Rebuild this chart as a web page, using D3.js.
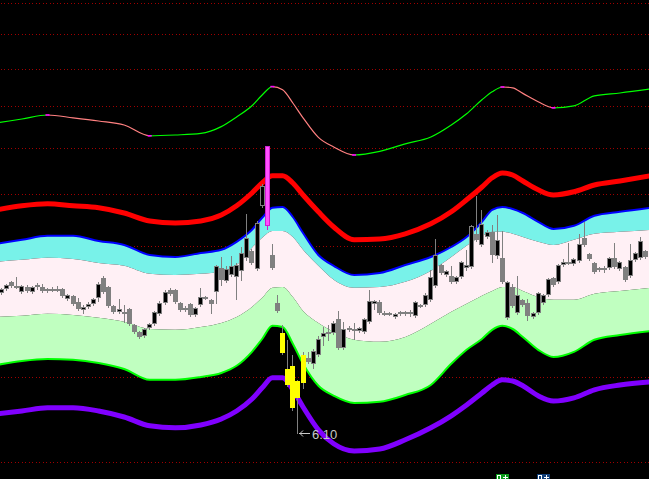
<!DOCTYPE html>
<html><head><meta charset="utf-8">
<script src="https://cdn.jsdelivr.net/npm/d3@7"></script>
<style>html,body{margin:0;padding:0;background:#000;overflow:hidden}svg{display:block}</style>
</head><body><svg id="c" width="649" height="479"></svg>
<script>
// ---- candle data (index 0..126) ----
const candleOpen = [9.60,9.70,9.88,9.78,9.63,9.75,9.63,9.75,9.75,9.65,
9.70,9.70,9.70,9.45,9.53,9.38,9.18,9.25,9.33,9.48,
9.98,9.75,9.28,9.13,9.13,9.20,8.80,8.63,8.53,8.73,
8.83,9.08,9.35,9.68,9.68,9.35,9.23,9.33,9.05,9.30,
9.50,9.43,9.63,10.23,9.90,10.05,10.00,10.15,10.48,10.65,
10.20,11.78,11.28,10.55,9.35,8.60,7.70,7.78,6.98,7.35,
7.98,7.83,8.05,8.50,8.63,8.60,8.95,8.23,8.73,8.70,
8.65,8.63,8.88,9.33,9.38,9.10,9.10,9.00,9.08,9.13,
9.13,9.03,9.30,9.30,9.43,9.78,10.30,10.05,10.03,9.88,
10.00,10.23,10.25,11.08,10.80,11.00,11.13,10.53,10.48,8.98,
9.75,9.10,9.43,9.35,9.00,9.10,9.35,9.55,9.98,9.88,
10.30,10.38,10.33,10.40,10.98,10.58,10.35,10.23,10.23,10.23,
10.48,10.20,10.25,10.03,10.43,10.48,10.65];
const candleHigh = [9.73,9.83,9.90,10.00,9.80,9.80,9.78,9.85,9.83,9.73,
9.75,9.78,9.73,9.58,9.55,9.48,9.30,9.38,9.48,9.88,
10.03,9.78,9.30,9.45,9.30,9.23,8.83,8.65,8.73,8.85,
9.15,9.40,9.68,9.73,9.70,9.38,9.28,9.35,9.25,9.73,
9.53,9.45,10.30,10.50,10.28,10.53,10.35,10.75,11.58,10.70,
11.40,12.33,13.28,10.83,9.55,8.80,8.43,8.05,7.43,8.13,
8.13,8.20,8.53,8.75,8.80,8.90,9.15,8.88,8.78,8.85,
8.75,8.98,9.68,9.43,9.43,9.15,9.13,9.10,9.15,9.15,
9.18,9.40,9.33,9.60,10.18,10.95,10.33,10.18,10.28,10.03,
10.40,10.68,11.30,12.03,11.68,11.18,11.30,11.55,11.15,9.90,
9.83,10.03,9.45,9.45,9.13,9.63,9.58,9.98,10.00,10.33,
10.45,10.85,10.48,11.08,11.38,10.60,10.38,10.25,10.28,10.50,
10.85,10.40,10.28,10.83,10.63,11.00,10.68];
const candleLow = [9.58,9.68,9.75,9.73,9.60,9.63,9.60,9.70,9.63,9.63,
9.65,9.65,9.50,9.43,9.30,9.18,9.10,9.23,9.30,9.40,
9.60,9.25,9.10,9.10,8.88,8.80,8.60,8.48,8.50,8.70,
8.80,9.05,9.33,9.55,9.35,9.15,9.15,9.03,9.03,9.28,
9.45,9.10,9.35,9.80,9.88,10.03,9.45,9.93,10.43,10.33,
10.18,11.75,11.20,10.20,9.13,8.08,7.28,6.68,6.10,7.23,
7.85,7.73,8.03,8.30,8.43,8.58,8.20,8.20,8.65,8.45,
8.63,8.60,8.85,9.20,9.08,9.05,9.05,8.98,9.05,9.05,
9.03,9.00,9.25,9.28,9.40,9.75,10.08,10.03,9.85,9.85,
9.98,10.18,10.23,10.90,10.78,10.98,10.38,10.48,9.85,8.95,
9.25,9.08,9.28,8.93,8.98,9.08,9.33,9.53,9.78,9.85,
10.28,10.33,10.30,10.38,10.78,10.43,10.10,10.15,10.13,10.20,
10.23,10.18,9.90,10.00,10.40,10.45,10.48];
const candleClose = [9.70,9.80,9.78,9.75,9.78,9.65,9.75,9.80,9.65,9.70,
9.68,9.68,9.53,9.55,9.33,9.20,9.25,9.33,9.45,9.83,
9.63,9.28,9.13,9.20,9.10,8.83,8.63,8.50,8.70,8.83,
9.13,9.35,9.63,9.58,9.38,9.18,9.18,9.05,9.23,9.50,
9.48,9.33,10.28,9.93,10.20,10.28,10.30,10.60,10.98,10.35,
11.35,12.28,13.28,10.23,9.15,8.10,7.30,6.73,7.40,8.05,
7.88,8.15,8.45,8.60,8.60,8.85,8.23,8.70,8.68,8.65,
8.73,8.95,9.40,9.40,9.10,9.08,9.08,9.08,9.13,9.08,
9.08,9.38,9.28,9.55,10.00,10.55,10.10,10.15,9.88,10.00,
10.38,10.30,11.28,10.93,11.33,11.13,10.55,10.93,9.88,9.88,
9.28,9.55,9.30,9.03,9.10,9.60,9.55,9.95,9.80,10.30,
10.38,10.35,10.45,10.83,10.80,10.45,10.13,10.18,10.18,10.48,
10.25,10.38,9.93,10.43,10.60,10.90,10.50];
const magentaBars = [52];
const yellowBars = [55,56,57,58,59];

// ---- indicator bands, sampled at these candle indices ----
const bandIdx = [-1,4,9,14,19,24,29,34,39,43,46,49,51,53,55,57,59,62,65,69,74,79,84,88,91,94,96,98,100,102,105,108,112,116,121,127];
const topLine = [13.85,13.95,14.05,13.98,13.90,13.80,13.53,13.55,13.59,13.76,14.00,14.28,14.55,14.76,14.68,14.35,13.98,13.49,13.25,13.05,13.14,13.33,13.50,13.80,14.08,14.43,14.63,14.75,14.73,14.59,14.38,14.23,14.28,14.53,14.60,14.70];
const redBand = [11.68,11.78,11.83,11.78,11.73,11.60,11.40,11.35,11.40,11.55,11.78,12.10,12.35,12.53,12.53,12.35,12.05,11.63,11.25,10.93,10.95,11.08,11.33,11.63,11.93,12.25,12.48,12.60,12.55,12.40,12.18,12.05,12.13,12.30,12.40,12.53];
const blueBand = [10.83,10.93,11.03,11.03,10.90,10.80,10.55,10.50,10.60,10.68,10.88,11.18,11.48,11.73,11.75,11.50,11.10,10.55,10.28,10.05,10.10,10.30,10.50,10.75,11.00,11.38,11.68,11.75,11.70,11.60,11.38,11.20,11.28,11.53,11.63,11.73];
const pinkTop = [10.38,10.43,10.48,10.45,10.35,10.28,10.08,10.05,10.08,10.13,10.30,10.73,10.98,11.15,11.15,11.00,10.68,10.28,9.93,9.73,9.75,9.88,10.15,10.50,10.78,11.03,11.13,11.13,11.08,11.00,10.88,10.80,10.93,11.08,11.13,11.18];
const greenTop = [9.00,9.03,9.08,9.05,8.98,8.88,8.70,8.68,8.75,8.85,9.00,9.25,9.48,9.73,9.75,9.50,9.15,8.85,8.63,8.43,8.38,8.50,8.83,9.13,9.33,9.53,9.65,9.75,9.75,9.65,9.50,9.43,9.43,9.58,9.65,9.73];
const greenBand = [7.80,7.90,7.95,7.93,7.85,7.70,7.43,7.43,7.50,7.60,7.78,8.13,8.45,8.78,8.75,8.33,7.83,7.28,7.03,6.85,6.88,7.05,7.30,7.83,8.18,8.45,8.68,8.78,8.70,8.50,8.18,8.00,8.13,8.43,8.55,8.65];
const purpleBand = [6.58,6.65,6.73,6.73,6.65,6.50,6.28,6.23,6.30,6.45,6.65,6.95,7.23,7.48,7.48,7.18,6.75,6.18,5.83,5.65,5.70,5.93,6.23,6.53,6.80,7.10,7.30,7.43,7.40,7.28,7.03,6.90,6.98,7.18,7.30,7.38];

const gridPrices = [16.85,16.08,15.20,14.28,13.23,12.08,10.78,9.25,7.50,5.38];
const lowMark = {index:58, label:"6.10"};
const signalIdx = [98,106];
const signalColor = ["#0b9a1a","#12407a"];

// ---- render ----
const W = 649, H = 479;
const svg = d3.select("#c");
svg.append("rect").attr("width",W).attr("height",H).attr("fill","#000");

const x = d3.scaleLinear().domain([0,126]).range([1.5,645.5]);
const y = d3.scaleLinear().domain([4.95,16.925]).range([H,0]);

// grid (dotted)
svg.append("g").attr("shape-rendering","crispEdges").selectAll("line").data(gridPrices).join("line")
  .attr("x1",0.5).attr("x2",W)
  .attr("y1",d=>Math.round(y(d))+0.5).attr("y2",d=>Math.round(y(d))+0.5)
  .attr("stroke","#a00000").attr("stroke-width",1)
  .attr("stroke-dasharray","1,2.5");

const pts = bandIdx.map((k,i)=>i);
const bx = i => x(bandIdx[i]);
const area = (lo,hi) => d3.area().x(bx).y0(i=>y(lo[i])).y1(i=>y(hi[i])).curve(d3.curveMonotoneX);
const lineOf = arr => d3.line().x(bx).y(i=>y(arr[i])).curve(d3.curveMonotoneX);

svg.append("path").attr("d",area(pinkTop,blueBand)(pts)).attr("fill","#78f2e9");
svg.append("path").attr("d",area(greenTop,pinkTop)(pts)).attr("fill","#fff0f5");
svg.append("path").attr("d",area(greenBand,greenTop)(pts)).attr("fill","#c0ffc0");

svg.append("path").attr("d",lineOf(blueBand)(pts)).attr("fill","none").attr("stroke","#0000ff").attr("stroke-width",2);
svg.append("path").attr("d",lineOf(greenBand)(pts)).attr("fill","none").attr("stroke","#00ff00").attr("stroke-width",2);
svg.append("path").attr("d",lineOf(redBand)(pts)).attr("fill","none").attr("stroke","#ff0000").attr("stroke-width",5);
svg.append("path").attr("d",lineOf(purpleBand)(pts)).attr("fill","none").attr("stroke","#8000ff").attr("stroke-width",5);

// top line: green rising, pink falling, magenta at turns
const defs = svg.append("defs");
const cpF = defs.append("clipPath").attr("id","fall");
const cpR = defs.append("clipPath").attr("id","rise");
for (let i=0;i<topLine.length-1;i++){
  const target = topLine[i+1] < topLine[i] ? cpF : cpR;
  target.append("rect").attr("x",bx(i)).attr("y",0).attr("width",bx(i+1)-bx(i)).attr("height",H);
}
const tl = lineOf(topLine)(pts);
svg.append("path").attr("d",tl).attr("fill","none").attr("stroke","#00ff00").attr("stroke-width",1.2).attr("clip-path","url(#rise)");
svg.append("path").attr("d",tl).attr("fill","none").attr("stroke","#ff8080").attr("stroke-width",1.2).attr("clip-path","url(#fall)");
for (let i=1;i<topLine.length-1;i++){
  const a = topLine[i]-topLine[i-1], b = topLine[i+1]-topLine[i];
  if ((a>0 && b<0) || (a<0 && b>0)) {
    svg.append("rect").attr("x",bx(i)-2).attr("y",y(topLine[i])-0.8).attr("width",4).attr("height",1.6).attr("fill","#ff00ff");
  }
}

// candles
const gC = svg.append("g").attr("shape-rendering","crispEdges");
candleOpen.forEach((o,k)=>{
  const c = candleClose[k], hi = candleHigh[k], lo = candleLow[k];
  const up = c > o;
  const a = Math.round(x(k)-2.5);
  let fill, stroke, wick = "#808080";
  if (magentaBars.includes(k)) { fill="#ff50ff"; stroke="#d020d0"; wick="#d020d0"; }
  else if (yellowBars.includes(k)) { fill="#ffff00"; stroke="#ffff00"; }
  else if (up) { fill="#000"; stroke="#808080"; }
  else { fill="#808080"; stroke="#808080"; }
  gC.append("line").attr("x1",a+2.5).attr("x2",a+2.5)
    .attr("y1",Math.round(y(hi))).attr("y2",Math.round(y(lo))+1)
    .attr("stroke",wick).attr("stroke-width",1);
  const t = Math.round(y(Math.max(o,c))), b = Math.round(y(Math.min(o,c)));
  gC.append("rect").attr("x",a+0.5).attr("y",t+0.5)
    .attr("width",4).attr("height",Math.max(b-t-1,1))
    .attr("fill",fill).attr("stroke",stroke).attr("stroke-width",1);
});

// low label
const lx = Math.round(x(lowMark.index))+1, ly = Math.round(y(candleLow[lowMark.index]))+0.5;
svg.append("path").attr("d",`M${lx},${ly}H${lx+11}M${lx+4},${ly-3}L${lx+1},${ly}L${lx+4},${ly+3}`)
  .attr("fill","none").attr("stroke","#c8c8c8").attr("stroke-width",1);
svg.append("text").attr("x",lx+13).attr("y",ly+5).text(lowMark.label)
  .attr("fill","#c8c8c8").attr("font-family","Liberation Sans, Arial, sans-serif").attr("font-size",13);

// bottom signal icons
signalIdx.forEach((k,i)=>{
  const cx = Math.round(x(k));
  const g = svg.append("g").attr("shape-rendering","crispEdges");
  g.append("rect").attr("x",cx-6).attr("y",474).attr("width",13).attr("height",6).attr("fill",signalColor[i]);
  g.append("rect").attr("x",cx-4.5).attr("y",475.5).attr("width",3).attr("height",4).attr("fill","none").attr("stroke","#fff");
  g.append("path").attr("d",`M${cx+1},${477.5}H${cx+6}M${cx+3.5},${475}V${479}`).attr("stroke","#fff");
});
</script>
</body></html>
